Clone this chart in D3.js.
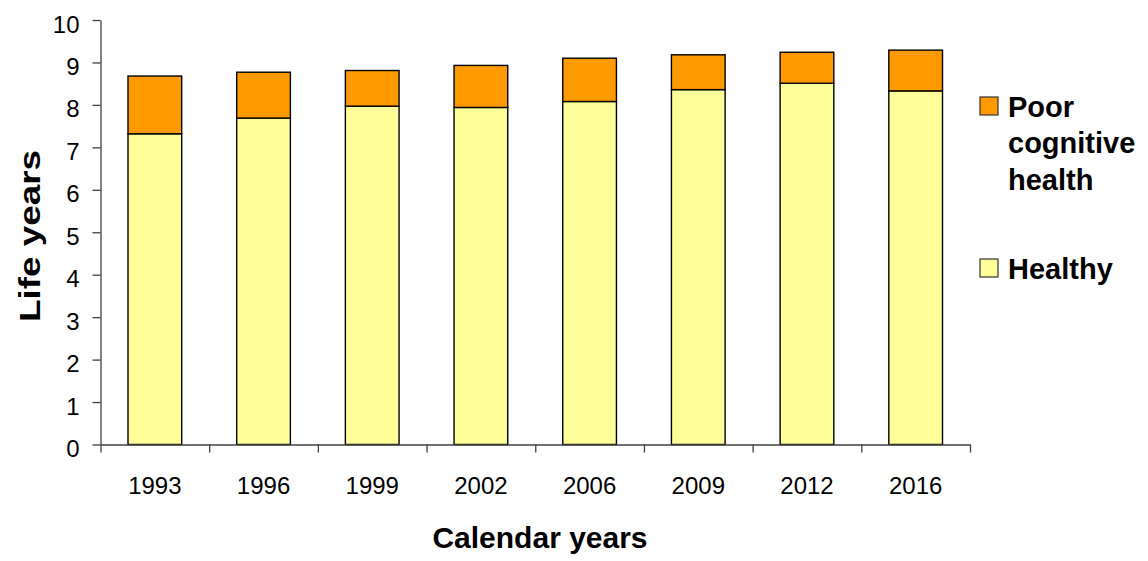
<!DOCTYPE html>
<html>
<head>
<meta charset="utf-8">
<script src="https://cdn.jsdelivr.net/npm/d3@7"></script>
<style>
  html, body { margin: 0; padding: 0; background: #fff; }
  svg { display: block; font-family: "Liberation Sans", Arial, sans-serif; }
</style>
</head>
<body>
<svg id="chart" width="1148" height="561"></svg>
<script>
const categories = ["1993", "1996", "1999", "2002", "2006", "2009", "2012", "2016"];
const healthy = [7.32, 7.69, 7.97, 7.94, 8.08, 8.36, 8.51, 8.33];
const poorCognitive = [1.36, 1.08, 0.84, 0.99, 1.02, 0.82, 0.73, 0.96];
const yTicks = [0, 1, 2, 3, 4, 5, 6, 7, 8, 9, 10];
const seriesNames = ["Healthy", "Poor cognitive health"];
const seriesColors = ["#FFFF99", "#FF9900"];

const svg = d3.select("#chart");
const plotLeft = 100.5, plotRight = 970, plotTop = 20, plotBottom = 444.5;

const x = d3.scaleBand().domain(categories).range([plotLeft, plotRight])
  .paddingInner(0.506).paddingOuter(0.253);
const y = d3.scaleLinear().domain([0, 10]).range([plotBottom, plotTop]);

// stacked data
const rows = categories.map((c, i) => ({ cat: c, Healthy: healthy[i], "Poor cognitive health": poorCognitive[i] }));
const stack = d3.stack().keys(seriesNames)(rows);

const g = svg.append("g");
stack.forEach((layer, si) => {
  g.selectAll(null).data(layer).enter().append("rect")
    .attr("x", d => x(d.data.cat))
    .attr("width", x.bandwidth())
    .attr("y", d => y(d[1]))
    .attr("height", d => y(d[0]) - y(d[1]))
    .attr("fill", seriesColors[si])
    .attr("stroke", "#000")
    .attr("stroke-width", 1.4);
});

// Y axis
const yAxis = svg.append("g")
  .attr("transform", `translate(${plotLeft},0)`)
  .call(d3.axisLeft(y).tickValues(yTicks).tickSize(8).tickSizeOuter(0).tickPadding(13));
yAxis.selectAll("text").attr("font-size", 24).attr("fill", "#000").attr("dy", "0.5em")
  .attr("font-family", "'Liberation Sans', Arial, sans-serif");
yAxis.selectAll("line, path").attr("stroke", "#404040").attr("stroke-width", 1.3);

// X axis: boundary ticks
const xb = d3.scaleLinear().domain([0, categories.length]).range([plotLeft, plotRight]);
const xAxisTicks = svg.append("g")
  .attr("transform", `translate(0,${plotBottom})`)
  .call(d3.axisBottom(xb).tickValues(d3.range(categories.length + 1)).tickFormat("").tickSize(8).tickSizeOuter(0));
xAxisTicks.selectAll("line, path").attr("stroke", "#404040").attr("stroke-width", 1.3);

// X axis labels
const xAxisLabels = svg.append("g")
  .attr("transform", `translate(0,${plotBottom})`)
  .call(d3.axisBottom(x).tickSize(0).tickPadding(32));
xAxisLabels.select(".domain").remove();
xAxisLabels.selectAll("text").attr("font-size", 24).attr("fill", "#000")
  .attr("font-family", "'Liberation Sans', Arial, sans-serif");

// Axis titles
svg.append("text")
  .attr("x", 540).attr("y", 548)
  .attr("text-anchor", "middle")
  .attr("font-size", 30).attr("font-weight", "bold")
  .text("Calendar years");

svg.append("text")
  .attr("transform", "translate(40,236) rotate(-90)")
  .attr("text-anchor", "middle")
  .attr("font-size", 29).attr("font-weight", "bold")
  .attr("textLength", 172).attr("lengthAdjust", "spacingAndGlyphs")
  .text("Life years");

// Legend
const legendItems = [
  { name: "Poor cognitive health", lines: ["Poor", "cognitive", "health"], color: seriesColors[1], y: 97 },
  { name: "Healthy", lines: ["Healthy"], color: seriesColors[0], y: 259 }
];
const lg = svg.append("g");
legendItems.forEach(it => {
  lg.append("rect")
    .attr("x", 980).attr("y", it.y).attr("width", 18).attr("height", 18)
    .attr("fill", it.color).attr("stroke", "#333").attr("stroke-width", 1.2);
  const t = lg.append("text")
    .attr("x", 1008).attr("y", it.y + 19.5)
    .attr("font-size", 29).attr("font-weight", "bold");
  it.lines.forEach((ln, i) => {
    t.append("tspan").attr("x", 1008).attr("dy", i === 0 ? 0 : 36.7).text(ln);
  });
});
</script>
</body>
</html>
